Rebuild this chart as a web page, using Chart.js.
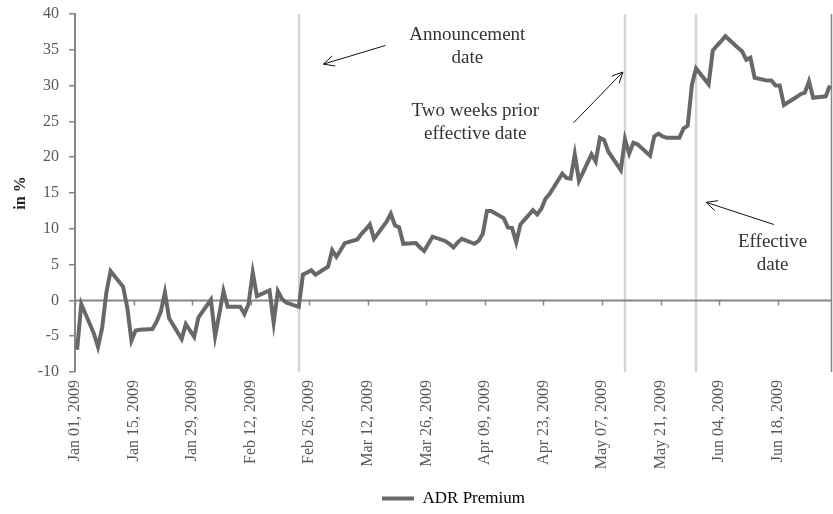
<!DOCTYPE html>
<html>
<head>
<meta charset="utf-8">
<script src="https://cdn.jsdelivr.net/npm/chart.js@4.4.1/dist/chart.umd.min.js"></script>
<style>
  html, body { margin: 0; padding: 0; background: #ffffff; }
</style>
</head>
<body>
<canvas id="chart" width="833" height="514"></canvas>
<script>
/* ADR premium, Jan - Jun 2009 */

// trading days (2009)
const tradeDays = [
    "01-01", "01-02", "01-05", "01-06", "01-07", "01-08", "01-09",
    "01-12", "01-13", "01-14", "01-15", "01-16",
    "01-19", "01-20", "01-21", "01-22", "01-23",
    "01-26", "01-27", "01-28", "01-29", "01-30",
    "02-02", "02-03", "02-04", "02-05", "02-06",
    "02-09", "02-10", "02-11", "02-12", "02-13",
    "02-16", "02-17", "02-18", "02-19", "02-20",
    "02-23", "02-24", "02-25", "02-26", "02-27",
    "03-02", "03-03", "03-04", "03-05", "03-06",
    "03-09", "03-10", "03-11", "03-12", "03-13",
    "03-16", "03-17", "03-18", "03-19", "03-20",
    "03-23", "03-24", "03-25", "03-26", "03-27",
    "03-30", "03-31", "04-01", "04-02", "04-03",
    "04-06", "04-07", "04-08", "04-09", "04-10",
    "04-13", "04-14", "04-15", "04-16", "04-17",
    "04-20", "04-21", "04-22", "04-23", "04-24",
    "04-27", "04-28", "04-29", "04-30", "05-01",
    "05-04", "05-05", "05-06", "05-07", "05-08",
    "05-11", "05-12", "05-13", "05-14", "05-15",
    "05-18", "05-19", "05-20", "05-21", "05-22",
    "05-25", "05-26", "05-27", "05-28", "05-29",
    "06-01", "06-02", "06-03", "06-04", "06-05",
    "06-08", "06-09", "06-10", "06-11", "06-12",
    "06-15", "06-16", "06-17", "06-18", "06-19",
    "06-22", "06-23", "06-24", "06-25", "06-26",
    "06-29", "06-30"
];

const premium = [
    -6.9, -0.5, -4.6, -6.5, -3.8, 1.1, 4.1,
    1.9, -1.0, -5.6, -4.2, -4.1,
    -4.0, -3.0, -1.6, 1.1, -2.5,
    -5.4, -3.3, -4.2, -5.1, -2.4,
    0.1, -5.0, -1.9, 1.3, -0.9,
    -0.9, -1.9, -0.5, 3.9, 0.6,
    1.4, -3.1, 1.3, 0.2, -0.3,
    -0.9, 3.6, 3.9, 4.2, 3.6,
    4.7, 7.0, 6.1, 7.0, 8.0,
    8.5, 9.3, 9.9, 10.6, 8.6,
    11.0, 12.1, 10.5, 10.2, 7.9,
    8.0, 7.4, 6.9, 7.9, 8.9,
    8.3, 7.9, 7.4, 8.1, 8.6,
    7.9, 8.3, 9.3, 12.5, 12.5,
    11.5, 10.2, 10.1, 8.1, 10.6,
    12.6, 12.0, 12.8, 14.2, 14.9,
    17.7, 17.1, 17.0, 20.4, 16.7,
    20.4, 19.4, 22.7, 22.4, 20.8,
    18.2, 22.5, 20.5, 22.0, 21.8,
    20.2, 22.9, 23.3, 22.9, 22.7,
    22.7, 24.0, 24.4, 30.1, 32.4,
    30.2, 34.9, 35.6, 36.2, 36.9,
    35.3, 34.8, 33.6, 33.9, 31.1,
    30.7, 30.7, 30.0, 30.0, 27.3,
    28.4, 28.8, 29.0, 30.6, 28.3,
    28.5, 30.0
];

const tickDays = [
    "01-01", "01-15", "01-29", "02-12", "02-26", "03-12", "03-26",
    "04-09", "04-23", "05-07", "05-21", "06-04", "06-18"
];

const tickLabels = [
    "Jan 01, 2009", "Jan 15, 2009", "Jan 29, 2009", "Feb 12, 2009",
    "Feb 26, 2009", "Mar 12, 2009", "Mar 26, 2009", "Apr 09, 2009",
    "Apr 23, 2009", "May 07, 2009", "May 21, 2009", "Jun 04, 2009",
    "Jun 18, 2009"
];

// announcement, two weeks prior effective, effective
const markerDays = ["02-23", "05-12", "05-29"];

// notes: text lines, centre of first line [day, value], arrow tail and tip [day, value]
const noteText = [
    ["Announcement", "date"],
    ["Two weeks prior", "effective date"],
    ["Effective", "date"]
];
const noteAt = [[93.8, 37.1], [95.7, 26.5], [166.8, 8.1]];
const arrowFrom = [[74.2, 35.6], [119.2, 24.8], [167.1, 10.6]];
const arrowTo = [[59.4, 33.0], [131.0, 31.9], [150.9, 13.7]];

const lineGrey = "#68686b";
const axisGrey = "#868686";
const textGrey = "#595959";
const serif = "'Liberation Serif', 'Times New Roman', serif";

function dayOf(md) {
    return (Date.parse("2009-" + md) - Date.parse("2009-01-01")) / 86400000;
}

const points = tradeDays.map((d, i) => ({ x: dayOf(d) + 0.5, y: premium[i] }));

function stroke(ctx, x1, y1, x2, y2) {
    ctx.beginPath();
    ctx.moveTo(x1, y1);
    ctx.lineTo(x2, y2);
    ctx.stroke();
}

const decor = {
    id: "decor",
    beforeDatasetsDraw(chart) {
        const { ctx, chartArea: a, scales: { x, y } } = chart;
        ctx.save();

        ctx.strokeStyle = "#d5d5d5";
        ctx.lineWidth = 2.5;
        markerDays.forEach(d => {
            const px = Math.round(x.getPixelForValue(dayOf(d) + 0.5));
            stroke(ctx, px, a.top, px, a.bottom);
        });

        const y0 = Math.round(y.getPixelForValue(0)) + 0.5;
        ctx.strokeStyle = axisGrey;
        ctx.lineWidth = 2;
        stroke(ctx, a.left, y0, a.right, y0);

        ctx.lineWidth = 1.5;
        tickDays.forEach(d => {
            const px = Math.round(x.getPixelForValue(dayOf(d))) + 0.5;
            stroke(ctx, px, y0, px, y0 + 5);
        });

        stroke(ctx, a.right - 0.5, a.top, a.right - 0.5, a.bottom);
        ctx.restore();
    },
    afterDraw(chart) {
        const { ctx, scales: { x, y } } = chart;
        ctx.save();
        ctx.fillStyle = "#333333";
        ctx.font = "19px " + serif;
        ctx.textAlign = "center";
        ctx.textBaseline = "middle";
        noteText.forEach((lines, i) => {
            const cx = x.getPixelForValue(noteAt[i][0]);
            const cy = y.getPixelForValue(noteAt[i][1]);
            lines.forEach((t, k) => ctx.fillText(t, cx, cy + k * 23));
        });

        ctx.strokeStyle = "#111111";
        ctx.lineWidth = 1;
        arrowFrom.forEach((p, i) => {
            const x1 = x.getPixelForValue(p[0]);
            const y1 = y.getPixelForValue(p[1]);
            const x2 = x.getPixelForValue(arrowTo[i][0]);
            const y2 = y.getPixelForValue(arrowTo[i][1]);
            stroke(ctx, x1, y1, x2, y2);
            const ang = Math.atan2(y1 - y2, x1 - x2);
            [-0.45, 0.45].forEach(da => {
                stroke(ctx, x2, y2,
                    x2 + 12 * Math.cos(ang + da),
                    y2 + 12 * Math.sin(ang + da));
            });
        });
        ctx.restore();
    }
};

new Chart(document.getElementById("chart"), {
    type: "line",
    data: {
        datasets: [
            {
                label: "ADR Premium",
                data: points,
                borderColor: lineGrey,
                backgroundColor: lineGrey,
                borderWidth: 4,
                pointRadius: 0,
                tension: 0
            }
        ]
    },
    options: {
        responsive: false,
        animation: false,
        layout: {
            padding: { top: 14, right: 1, left: 0, bottom: -3 }
        },
        plugins: {
            tooltip: { enabled: false },
            legend: {
                position: "bottom",
                fullSize: false,
                labels: {
                    color: "#404040",
                    font: { family: serif, size: 17 },
                    boxWidth: 32,
                    boxHeight: 4,
                    padding: 3,
                    generateLabels(chart) {
                        return chart.data.datasets.map((ds, i) => ({
                            text: ds.label,
                            fillStyle: lineGrey,
                            strokeStyle: lineGrey,
                            lineWidth: 0,
                            datasetIndex: i
                        }));
                    }
                }
            }
        },
        scales: {
            x: {
                type: "linear",
                min: 0,
                max: 181,
                grid: { display: false },
                border: { display: false },
                ticks: {
                    color: textGrey,
                    font: { family: serif, size: 16 },
                    minRotation: 90,
                    maxRotation: 90,
                    padding: 0,
                    autoSkip: false,
                    callback(value) {
                        const k = tickDays.findIndex(d => dayOf(d) === value);
                        return k >= 0 ? tickLabels[k] : "";
                    }
                },
                afterBuildTicks(scale) {
                    scale.ticks = tickDays.map(d => ({ value: dayOf(d) }));
                },
                afterFit(scale) {
                    scale.height = 115;
                }
            },
            y: {
                min: -10,
                max: 40,
                border: { display: true, color: axisGrey, width: 2 },
                grid: {
                    drawOnChartArea: false,
                    tickLength: 6,
                    tickColor: axisGrey,
                    lineWidth: 1.5
                },
                ticks: {
                    stepSize: 5,
                    color: textGrey,
                    font: { family: serif, size: 16 },
                    padding: 10
                },
                title: {
                    display: true,
                    text: "in %",
                    color: "#222222",
                    font: { family: serif, size: 16, weight: "bold" },
                    padding: { top: 11, bottom: 0 }
                },
                afterFit(scale) {
                    scale.width = 75;
                    scale.paddingTop = 0;
                    scale.paddingBottom = 0;
                }
            }
        }
    },
    plugins: [decor]
});
</script>
</body>
</html>
